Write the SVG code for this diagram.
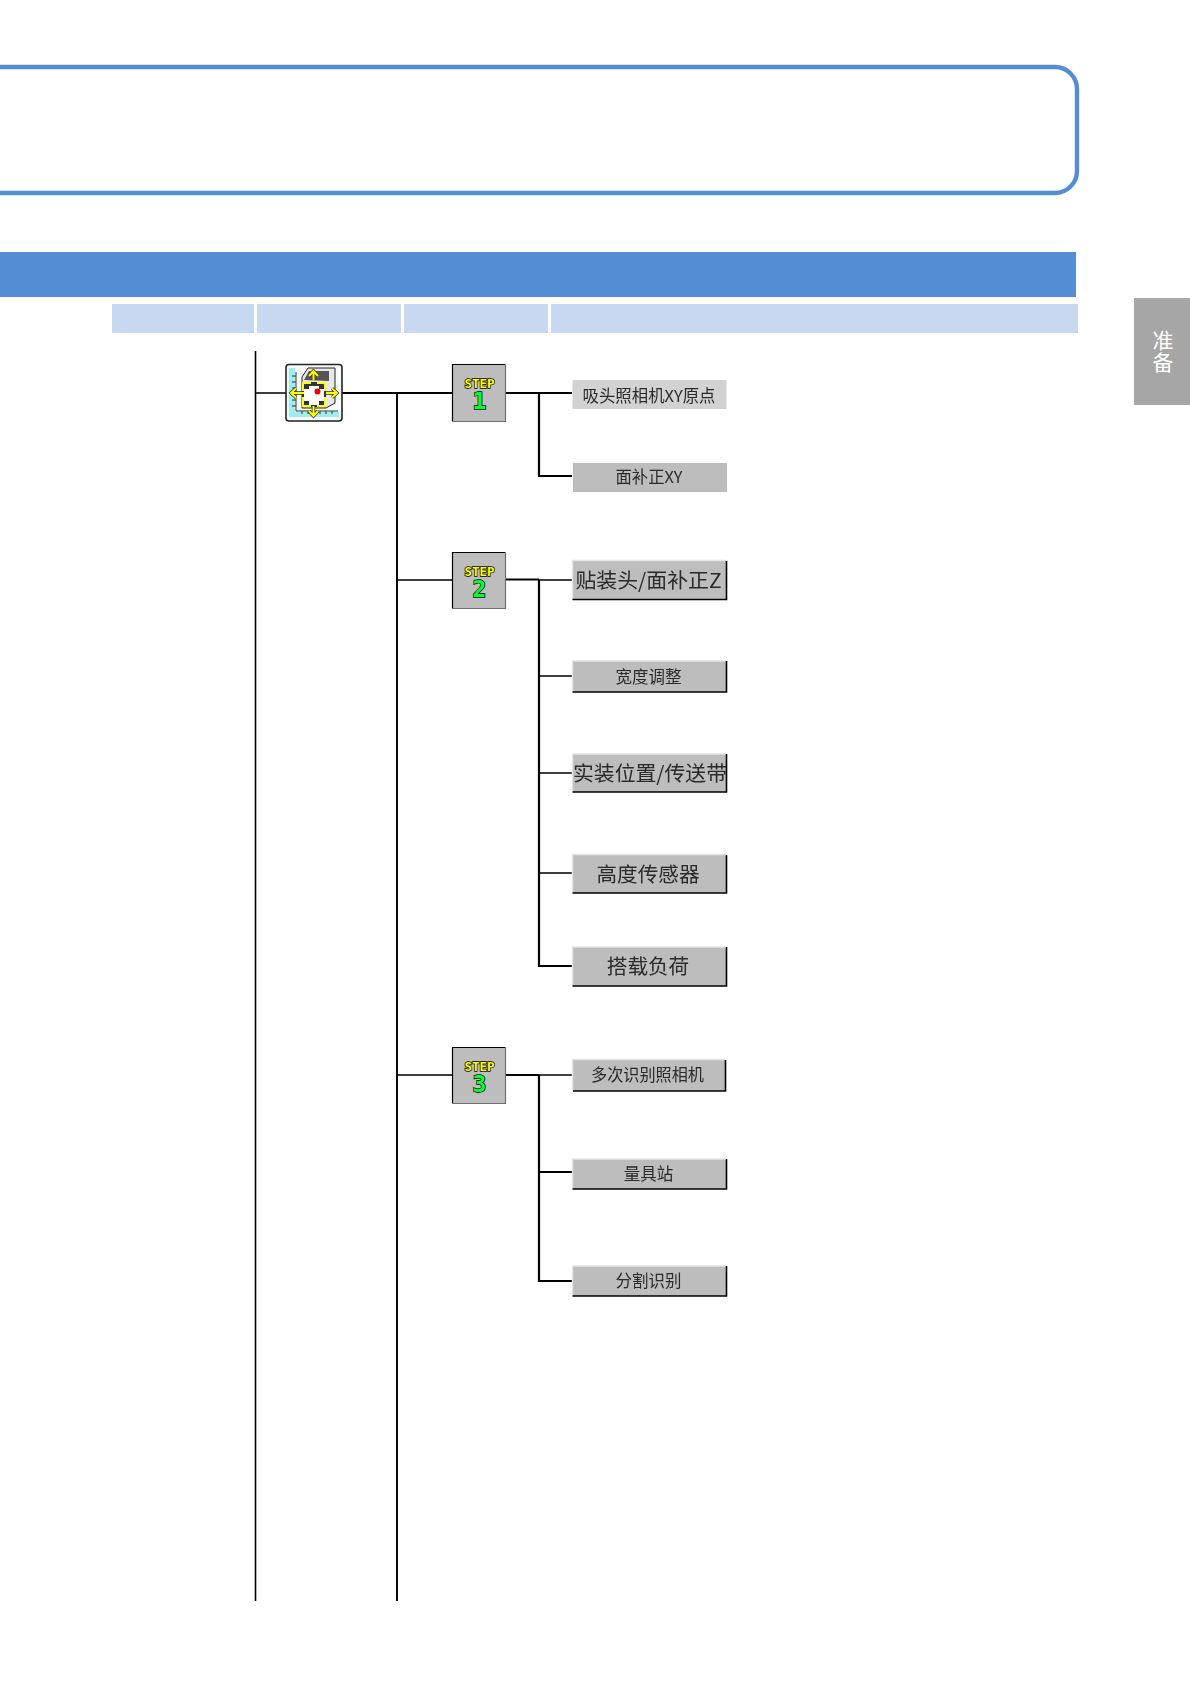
<svg xmlns="http://www.w3.org/2000/svg" width="1190" height="1684" viewBox="0 0 1190 1684">
<style>
.c{fill:none;stroke:#000;stroke-width:1.6}
.t{stroke-width:2.2}
.btn{fill:#bdbdbd}
.hi{fill:none;stroke:#e4e4e4;stroke-width:1.4}
.lo{fill:none;stroke:#000;stroke-width:1.6}
.lb{font-family:"Noto Sans CJK SC","Liberation Sans",sans-serif;fill:#2a2a2a;text-anchor:middle;filter:url(#soft)}
.s{font-size:16.5px}
.b{font-size:20.6px}
.st{fill:#bdbdbd}
.stT{fill:none;stroke:#000;stroke-width:1.2}
.stB{fill:none;stroke:#707070;stroke-width:1.2}
.sx{font-family:"DejaVu Sans Mono","Liberation Mono",monospace;font-weight:700;stroke:#000;stroke-width:1.4;paint-order:stroke;text-anchor:middle}
.stp{font-size:12.500px;fill:#ff0}
.dig{font-size:23px;fill:#0f3}
.arw{fill:none;stroke:#ff0;stroke-width:2}
.aro{fill:none;stroke:#333;stroke-width:3.400}
</style>
<defs>
<filter id="soft" x="-5%" y="-5%" width="110%" height="110%"><feGaussianBlur stdDeviation="0.3"/></filter>
</defs>
<rect width="1190" height="1684" fill="#fff"/>
<g id="title-frame"><rect x="-30" y="67" width="1107" height="126" rx="22" ry="22" fill="none" stroke="#548dd4" stroke-width="4.4"/></g>
<g id="section-bar"><rect x="0" y="252" width="1076" height="45" fill="#548dd4"/></g>
<g id="columns" fill="#c6d9f0">
<rect x="112" y="304" width="142" height="29"/>
<rect x="257" y="304" width="144" height="29"/>
<rect x="404" y="304" width="144" height="29"/>
<rect x="551" y="304" width="527" height="29"/>
</g>
<g id="side-tab"><rect x="1134" y="298" width="56" height="107" fill="#a6a6a6"/>
<text x="1163" y="330" font-family="'Noto Sans CJK SC',sans-serif" font-size="21" fill="#fff" style="writing-mode:vertical-rl;letter-spacing:1px">准备</text></g>
<g id="connectors">
<path class="c" d="M255.500 351V1601M255.500 393H286"/>
<path class="c t" d="M342 393H452"/>
<path class="c" style="stroke-width:1.900" d="M397 393V1601"/>
<path class="c" d="M397 580H452M397 1075H452"/>
<path class="c t" d="M505 393H572M539 393V476H572"/>
<path class="c t" d="M505 579.500H539M539 579.500V966H572"/>
<path class="c" d="M539 580H572M539 676H572M539 773H572M539 873H572"/>
<path class="c t" d="M505 1075H539M539 1075V1281H572M539 1172H572"/>
<path class="c" d="M539 1075H572"/>
</g>
<g id="icon-main">
<rect x="286" y="364.500" width="56" height="56.500" rx="3" fill="#f6fcfc" stroke="#222" stroke-width="1.600"/>
<rect x="289" y="368" width="6" height="48" fill="#9feeee"/>
<rect x="289" y="412" width="50" height="5" fill="#9feeee"/>
<path d="M296 372V411H338M292 376h4M292 382h4M292 388h4M292 400h4M292 406h4M302 411v3M308 411v3M320 411v3M326 411v3M332 411v3" stroke="#333" stroke-width="1" fill="none"/>
<path d="M302 377l6-9h27v35l-9 5h-24z" fill="#e8e8e8" stroke="#222"/>
<path d="M304 380l5-9h20v10z" fill="#555"/>
<path d="M302 382h24v25h-24z" fill="#333"/>
<path d="M303 391v-8h8M317 383h8v8M325 397v9h-8M311 406h-8v-9" fill="none" stroke="#ff0" stroke-width="2"/>
<path d="M309 386h10v3h5v12h-5v4h-10v-4h-5v-12h5z" fill="#fff"/>
<circle cx="317.500" cy="391.500" r="3" fill="#e00"/>
<path class="aro" d="M313.500 380V372M309 376l4.500-5 4.500 5M313.500 406V415M309 411l4.500 5 4.500-5M304 393H292M296 388.500l-5 4.500 5 4.500M326 393H337M332 388.500l5 4.500-5 4.500"/>
<path class="arw" d="M313.500 380V372M309 376l4.500-5 4.500 5M313.500 406V415M309 411l4.500 5 4.500-5M304 393H292M296 388.500l-5 4.500 5 4.500M326 393H337M332 388.500l5 4.500-5 4.500"/>
</g>
<g id="step-1">
<rect class="st" x="452.500" y="364.500" width="53" height="57"/>
<path class="stT" d="M452.500 421.500V364.500H505.500"/><path class="stB" d="M505.500 364.500V421.500H452.500"/>
<text class="sx"><tspan class="stp" x="479.500" y="388">STEP</tspan><tspan class="dig" x="479.500" y="409">1</tspan></text>
</g>
<g id="step-2">
<rect class="st" x="452.500" y="552.500" width="53" height="56"/>
<path class="stT" d="M452.500 608.500V552.500H505.500"/><path class="stB" d="M505.500 552.500V608.500H452.500"/>
<text class="sx"><tspan class="stp" x="479.500" y="575.500">STEP</tspan><tspan class="dig" x="479.500" y="596.500">2</tspan></text>
</g>
<g id="step-3">
<rect class="st" x="452.500" y="1047.500" width="53" height="56"/>
<path class="stT" d="M452.500 1103.500V1047.500H505.500"/><path class="stB" d="M505.500 1047.500V1103.500H452.500"/>
<text class="sx"><tspan class="stp" x="479.500" y="1070.500">STEP</tspan><tspan class="dig" x="479.500" y="1091.500">3</tspan></text>
</g>
<g id="btn-1"><rect x="572.500" y="380" width="154" height="29" fill="#d2d2d2"/>
<text class="lb s" x="649" y="402" textLength="133" lengthAdjust="spacingAndGlyphs">吸头照相机XY原点</text></g>
<g id="btn-2"><rect x="573" y="463" width="154" height="29" fill="#bdbdbd"/>
<text class="lb s" x="649" y="483" textLength="67" lengthAdjust="spacingAndGlyphs">面补正XY</text></g>
<g id="btn-3"><rect class="btn" x="572.500" y="560.500" width="154" height="39"/><path class="hi" d="M572.500 599V560.500H726"/><path class="lo" d="M572.500 599.500H726.500V561"/>
<text class="lb b" x="648.500" y="588" textLength="146" lengthAdjust="spacingAndGlyphs">贴装头/面补正Z</text></g>
<g id="btn-4"><rect class="btn" x="572.500" y="661" width="154" height="31"/><path class="hi" d="M572.500 692V661H726"/><path class="lo" d="M572.500 692H726.500V661"/>
<text class="lb s" x="648.500" y="683">宽度调整</text></g>
<g id="btn-5"><rect class="btn" x="572.500" y="754" width="154" height="38"/><path class="hi" d="M572.500 792V754H726"/><path class="lo" d="M572.500 792H726.500V754"/>
<text class="lb b" x="650" y="781" textLength="154" lengthAdjust="spacingAndGlyphs">实装位置/传送带</text></g>
<g id="btn-6"><rect class="btn" x="572.500" y="854.500" width="154" height="38.500"/><path class="hi" d="M572.500 893V854.500H726"/><path class="lo" d="M572.500 893H726.500V855"/>
<text class="lb b" x="648" y="881.500">高度传感器</text></g>
<g id="btn-7"><rect class="btn" x="572.500" y="947" width="154" height="39"/><path class="hi" d="M572.500 986V947H726"/><path class="lo" d="M572.500 986H726.500V947"/>
<text class="lb b" x="648" y="974">搭载负荷</text></g>
<g id="btn-8"><rect class="btn" x="572.500" y="1059.500" width="153" height="31.500"/><path class="hi" d="M572.500 1091V1059.500H725"/><path class="lo" d="M573 1091H725.500V1060"/>
<text class="lb s" x="647.500" y="1081" textLength="113" lengthAdjust="spacingAndGlyphs">多次识别照相机</text></g>
<g id="btn-9"><rect class="btn" x="572.500" y="1159" width="154" height="30"/><path class="hi" d="M572.500 1189V1159H726"/><path class="lo" d="M572.500 1189H726.500V1159"/>
<text class="lb s" x="648.500" y="1180">量具站</text></g>
<g id="btn-10"><rect class="btn" x="572.500" y="1266" width="154" height="30"/><path class="hi" d="M572.500 1296V1266H726"/><path class="lo" d="M572.500 1296H726.500V1266"/>
<text class="lb s" x="648.500" y="1287">分割识别</text></g>
</svg>
